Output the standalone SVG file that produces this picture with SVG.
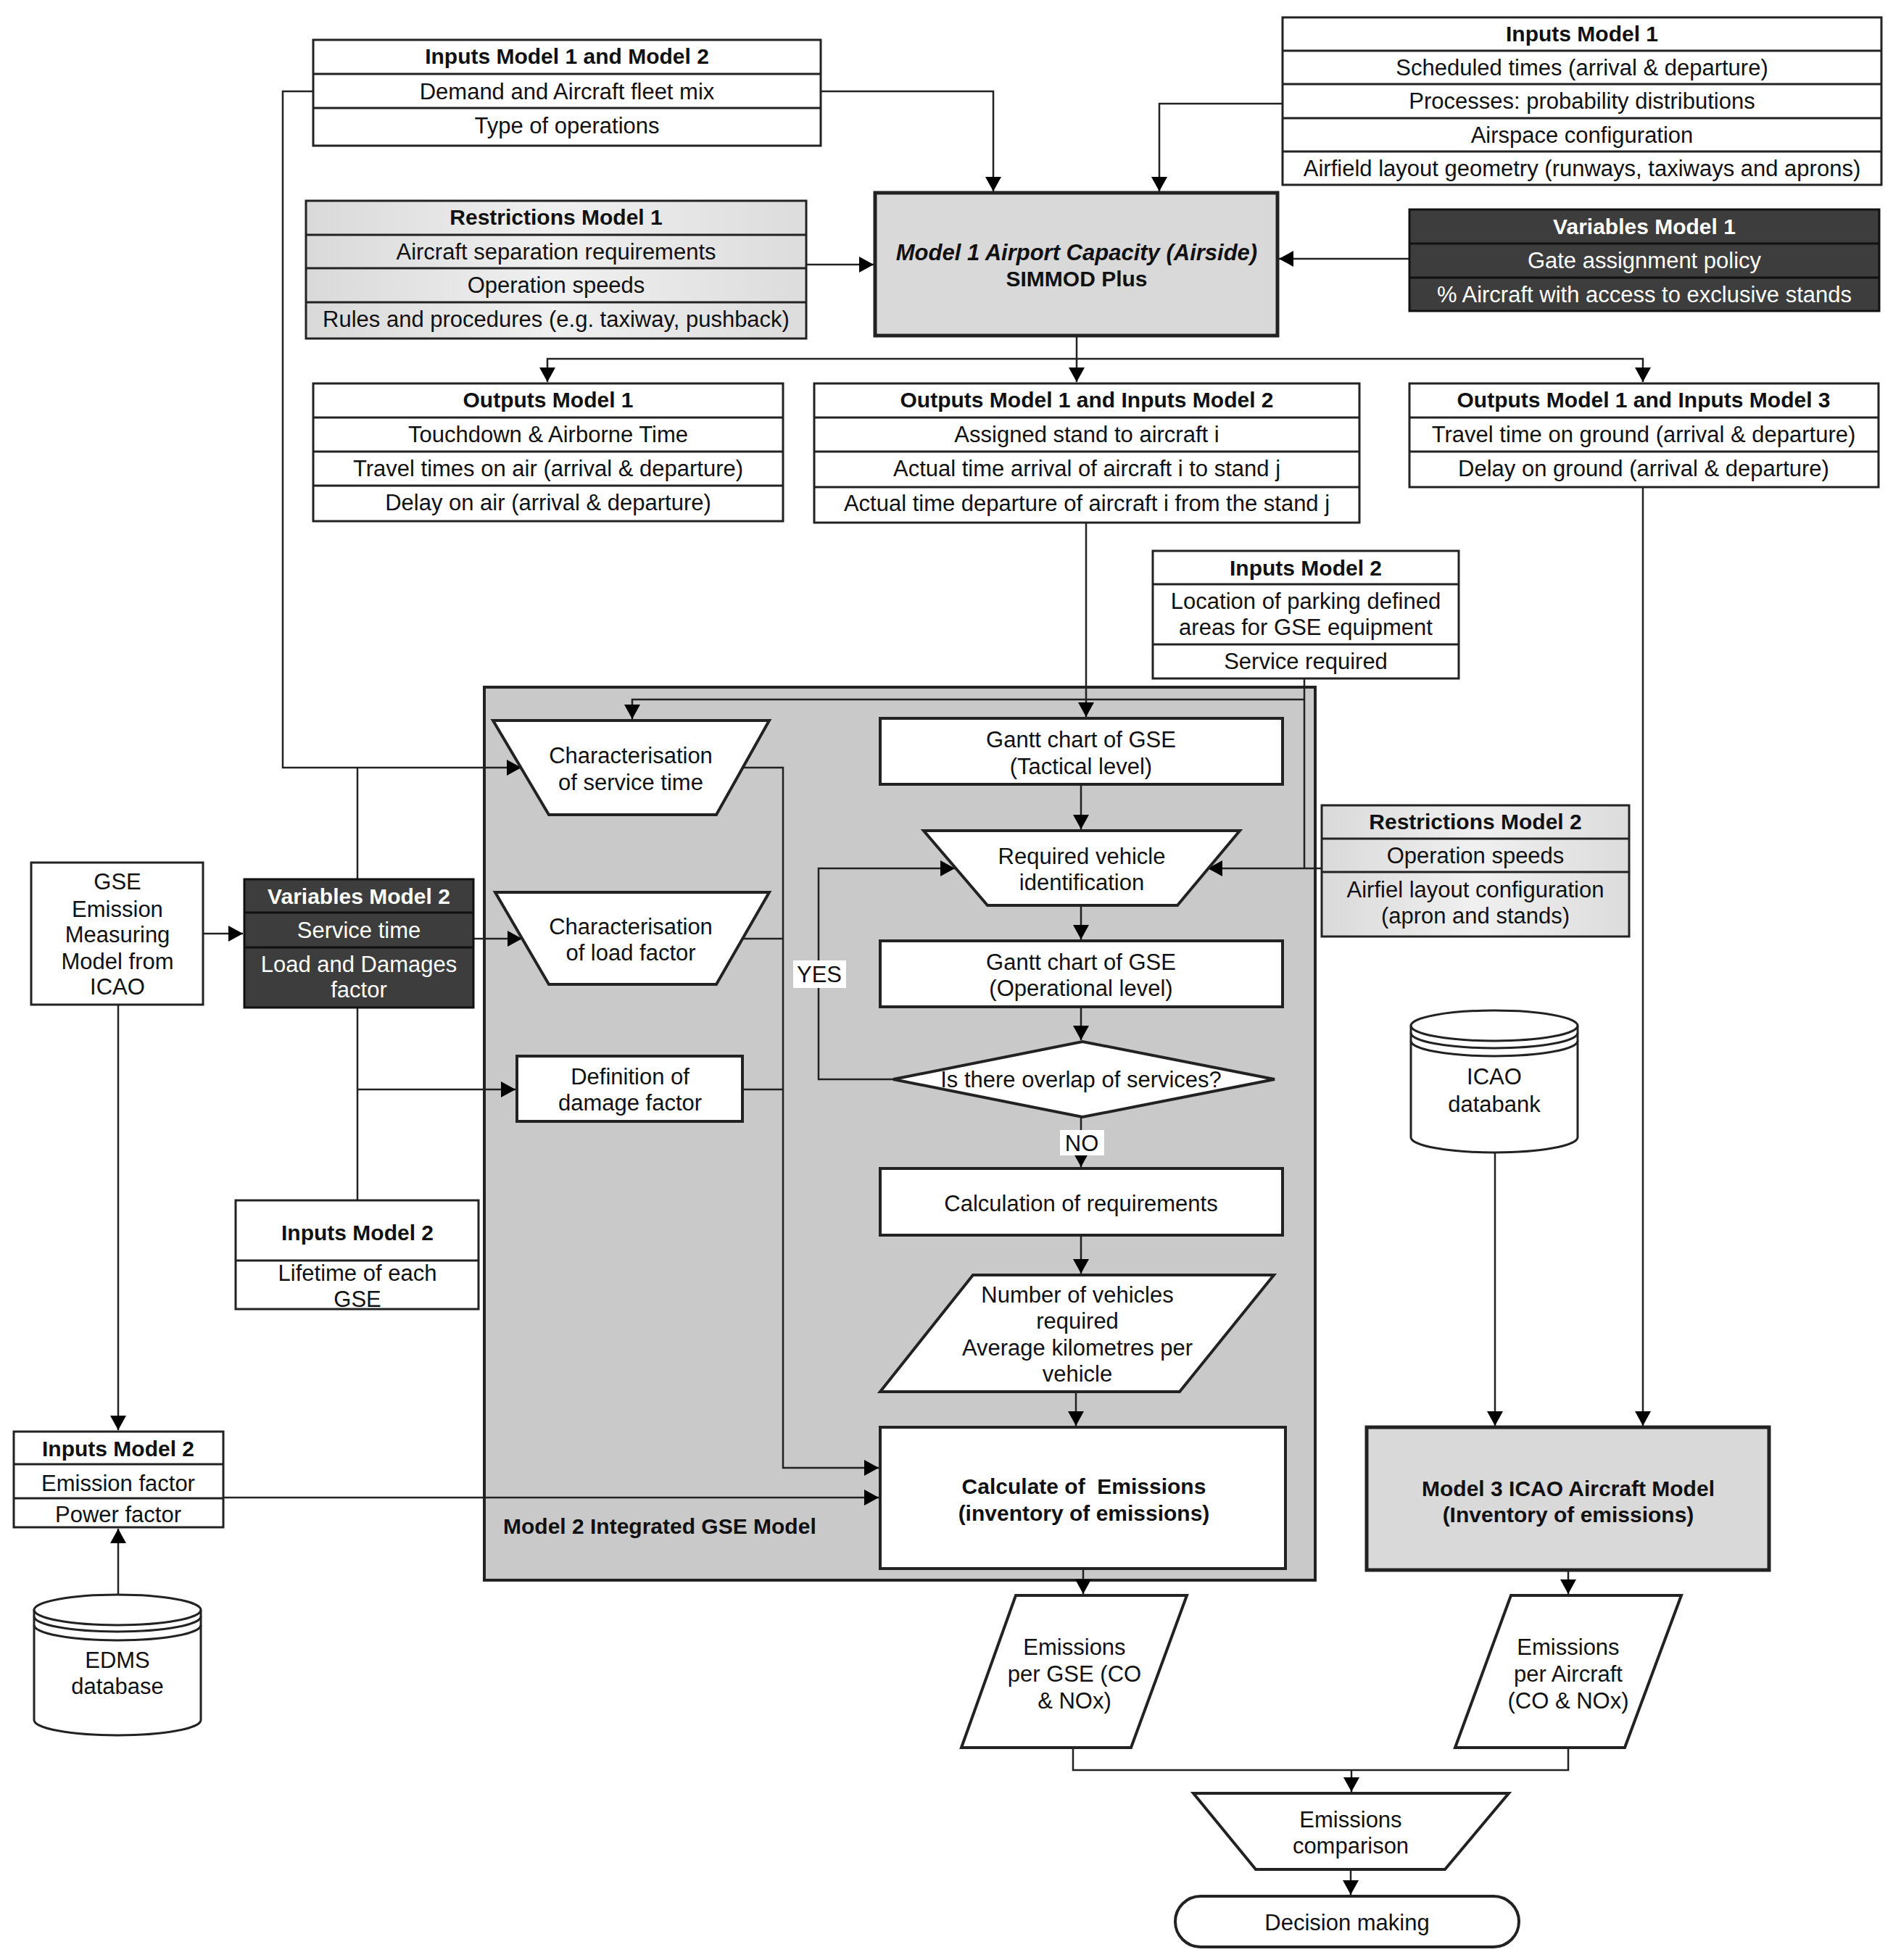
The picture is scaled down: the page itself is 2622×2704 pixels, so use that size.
<svg xmlns="http://www.w3.org/2000/svg" width="2622" height="2704" viewBox="0 0 2622 2704">
<defs>
<marker id="ah" markerUnits="userSpaceOnUse" markerWidth="22" markerHeight="22" refX="20" refY="11" orient="auto">
<path d="M0,0 L20,11 L0,22 z" fill="#000"/>
</marker>
<linearGradient id="restr" x1="0" y1="0" x2="1" y2="0">
<stop offset="0" stop-color="#d9d9d9"/>
<stop offset="0.5" stop-color="#f0f0f0"/>
<stop offset="1" stop-color="#dcdcdc"/>
</linearGradient>
</defs>
<style>
text{font-family:"Liberation Sans",Arial,sans-serif;font-size:31px;fill:#111;text-anchor:middle}
.b{font-weight:bold;font-size:30px}
.bi{font-weight:bold;font-style:italic}
.w{fill:#fff}
.l{text-anchor:start}
.box{fill:#fff;stroke:#222;stroke-width:3}
.rbox{fill:url(#restr);stroke:#222;stroke-width:3}
.dbox{fill:#3d3d3d;stroke:#111;stroke-width:3}
.div{stroke:#222;stroke-width:3;fill:none}
.ddiv{stroke:#111;stroke-width:3;fill:none}
.model{fill:#d9d9d9;stroke:#222;stroke-width:5}
.sh{fill:#fff;stroke:#222;stroke-width:4}
.c{fill:none;stroke:#222;stroke-width:2.5}
.a{fill:none;stroke:#222;stroke-width:2.5;marker-end:url(#ah)}
.lab{fill:#fff;stroke:none}
</style>
<rect width="2622" height="2704" fill="#fff"/>

<!-- Model 2 container (background) -->
<g id="model2">
<rect x="668" y="948" width="1146" height="1232" fill="#c9c9c9" stroke="#222" stroke-width="4"/>
<text class="b l" x="694" y="2116">Model 2 Integrated GSE Model</text>
</g>

<g id="connectors">
<path class="a" d="M432,126 H390 V1059 H719"/>
<path class="c" d="M493,1213 V1059"/>
<path class="a" d="M1132,126 H1370 V264"/>
<path class="a" d="M1769,143 H1599 V264"/>
<path class="a" d="M1112,365 H1205"/>
<path class="a" d="M1944,357 H1764"/>
<path class="a" d="M1485,463 V527"/>
<path class="a" d="M1485,495 H755 V527"/>
<path class="a" d="M1485,495 H2266 V527"/>
<path class="a" d="M1498,721 V989"/>
<path class="a" d="M2266,672 V1967"/>
<path class="c" d="M1799,936 V1198"/>
<path class="a" d="M1823,1198 H1666"/>
<path class="a" d="M1799,965 H872 V992"/>
<path class="a" d="M1491,1082 V1144"/>
<path class="a" d="M1491,1249 V1296"/>
<path class="a" d="M1491,1389 V1435"/>
<path class="a" d="M1232,1489 H1129 V1198 H1317"/>
<path class="a" d="M1491,1541 V1610"/>
<path class="a" d="M1491,1704 V1757"/>
<path class="a" d="M1484,1920 V1967"/>
<path class="a" d="M1024,1059 H1080 V2025 H1212"/>
<path class="c" d="M1024,1295 H1080"/>
<path class="c" d="M1024,1503 H1080"/>
<path class="a" d="M280,1288 H335"/>
<path class="a" d="M653,1295 H720"/>
<path class="c" d="M493,1390 V1656"/>
<path class="a" d="M493,1503 H711"/>
<path class="a" d="M163,1386 V1973"/>
<path class="a" d="M163,2200 V2109"/>
<path class="a" d="M308,2066 H1212"/>
<path class="a" d="M1494,2164 V2199"/>
<path class="a" d="M2062,1590 V1967"/>
<path class="a" d="M2163,2166 V2199"/>
<path class="c" d="M1480,2411 V2442 H2163 V2411"/>
<path class="a" d="M1864,2442 V2472"/>
<path class="a" d="M1863,2579 V2614"/>
</g>

<g id="inputs12">
<rect class="box" x="432" y="55" width="700" height="146"/>
<path class="div" d="M432,102 H1132 M432,149 H1132"/>
<text class="b" x="782" y="88">Inputs Model 1 and Model 2</text>
<text x="782" y="137">Demand and Aircraft fleet mix</text>
<text x="782" y="184">Type of operations</text>
</g>

<g id="inputs1">
<rect class="box" x="1769" y="24" width="826" height="231"/>
<path class="div" d="M1769,70 H2595 M1769,116 H2595 M1769,163 H2595 M1769,209 H2595"/>
<text class="b" x="2182" y="57">Inputs Model 1</text>
<text x="2182" y="104">Scheduled times (arrival &amp; departure)</text>
<text x="2182" y="150">Processes: probability distributions</text>
<text x="2182" y="197">Airspace configuration</text>
<text x="2182" y="243">Airfield layout geometry (runways, taxiways and aprons)</text>
</g>

<g id="restrictions1">
<rect class="rbox" x="422" y="277" width="690" height="190"/>
<path class="div" d="M422,324 H1112 M422,370 H1112 M422,417 H1112"/>
<text class="b" x="767" y="310">Restrictions Model 1</text>
<text x="767" y="358">Aircraft separation requirements</text>
<text x="767" y="404">Operation speeds</text>
<text x="767" y="451">Rules and procedures (e.g. taxiway, pushback)</text>
</g>

<g id="model1">
<rect class="model" x="1207" y="266" width="555" height="197"/>
<text class="bi" x="1485" y="359">Model 1 Airport Capacity (Airside)</text>
<text class="b" x="1485" y="395">SIMMOD Plus</text>
</g>

<g id="variables1">
<rect class="dbox" x="1944" y="289" width="648" height="140"/>
<path class="ddiv" d="M1944,336 H2592 M1944,383 H2592"/>
<text class="b w" x="2268" y="323">Variables Model 1</text>
<text class="w" x="2268" y="370">Gate assignment policy</text>
<text class="w" x="2268" y="417">% Aircraft with access to exclusive stands</text>
</g>

<g id="outputs1">
<rect class="box" x="432" y="529" width="648" height="190"/>
<path class="div" d="M432,576 H1080 M432,623 H1080 M432,670 H1080"/>
<text class="b" x="756" y="562">Outputs Model 1</text>
<text x="756" y="610">Touchdown &amp; Airborne Time</text>
<text x="756" y="657">Travel times on air (arrival &amp; departure)</text>
<text x="756" y="704">Delay on air (arrival &amp; departure)</text>
</g>

<g id="outputs12">
<rect class="box" x="1123" y="529" width="752" height="192"/>
<path class="div" d="M1123,576 H1875 M1123,623 H1875 M1123,672 H1875"/>
<text class="b" x="1499" y="562">Outputs Model 1 and Inputs Model 2</text>
<text x="1499" y="610">Assigned stand to aircraft i</text>
<text x="1499" y="657">Actual time arrival of aircraft i to stand j</text>
<text x="1499" y="705">Actual time departure of aircraft i from the stand j</text>
</g>

<g id="outputs13">
<rect class="box" x="1944" y="529" width="647" height="143"/>
<path class="div" d="M1944,576 H2591 M1944,623 H2591"/>
<text class="b" x="2267" y="562">Outputs Model 1 and Inputs Model 3</text>
<text x="2267" y="610">Travel time on ground (arrival &amp; departure)</text>
<text x="2267" y="657">Delay on ground (arrival &amp; departure)</text>
</g>

<g id="inputs2top">
<rect class="box" x="1590" y="760" width="422" height="176"/>
<path class="div" d="M1590,806 H2012 M1590,889 H2012"/>
<text class="b" x="1801" y="794">Inputs Model 2</text>
<text x="1801" y="840">Location of parking defined</text>
<text x="1801" y="876">areas for GSE equipment</text>
<text x="1801" y="923">Service required</text>
</g>

<g id="restrictions2">
<rect class="rbox" x="1823" y="1111" width="424" height="181"/>
<path class="div" d="M1823,1157 H2247 M1823,1203 H2247"/>
<text class="b" x="2035" y="1144">Restrictions Model 2</text>
<text x="2035" y="1191">Operation speeds</text>
<text x="2035" y="1238">Airfiel layout configuration</text>
<text x="2035" y="1274">(apron and stands)</text>
</g>

<g id="charService">
<polygon class="sh" points="680,994 1061,994 988,1124 757,1124"/>
<text x="870" y="1053">Characterisation</text>
<text x="870" y="1090">of service time</text>
</g>

<g id="charLoad">
<polygon class="sh" points="683,1231 1061,1231 988,1358 757,1358"/>
<text x="870" y="1289">Characterisation</text>
<text x="870" y="1325">of load factor</text>
</g>

<g id="defDamage">
<rect class="sh" x="713" y="1457" width="311" height="90"/>
<text x="869" y="1496">Definition of</text>
<text x="869" y="1532">damage factor</text>
</g>

<g id="ganttTactical">
<rect class="sh" x="1214" y="991" width="555" height="91"/>
<text x="1491" y="1031">Gantt chart of GSE</text>
<text x="1491" y="1068">(Tactical level)</text>
</g>

<g id="requiredVehicle">
<polygon class="sh" points="1274,1146 1710,1146 1624,1249 1362,1249"/>
<text x="1492" y="1192">Required vehicle</text>
<text x="1492" y="1228">identification</text>
</g>

<g id="ganttOperational">
<rect class="sh" x="1214" y="1298" width="555" height="91"/>
<text x="1491" y="1338">Gantt chart of GSE</text>
<text x="1491" y="1374">(Operational level)</text>
</g>

<g id="overlap">
<polygon class="sh" points="1232,1489 1493,1437 1758,1489 1493,1541"/>
<text x="1491" y="1500">Is there overlap of services?</text>
</g>

<g id="yesLabel">
<rect class="lab" x="1094" y="1325" width="73" height="38"/>
<text x="1130" y="1355">YES</text>
</g>

<g id="noLabel">
<rect class="lab" x="1462" y="1559" width="61" height="35"/>
<text x="1492" y="1588">NO</text>
</g>

<g id="calcReq">
<rect class="sh" x="1214" y="1612" width="555" height="92"/>
<text x="1491" y="1671">Calculation of requirements</text>
</g>

<g id="numVehicles">
<polygon class="sh" points="1342,1759 1757,1759 1627,1920 1214,1920"/>
<text x="1486" y="1797">Number of vehicles</text>
<text x="1486" y="1833">required</text>
<text x="1486" y="1870">Average kilometres per</text>
<text x="1486" y="1906">vehicle</text>
</g>

<g id="calcEmissions">
<rect class="sh" x="1214" y="1969" width="559" height="195"/>
<text class="b" x="1495" y="2061" xml:space="preserve">Calculate of  Emissions</text>
<text class="b" x="1495" y="2098">(inventory of emissions)</text>
</g>

<g id="gseModel">
<rect class="box" x="43" y="1190" width="237" height="196"/>
<text x="162" y="1227">GSE</text>
<text x="162" y="1265">Emission</text>
<text x="162" y="1300">Measuring</text>
<text x="162" y="1337">Model from</text>
<text x="162" y="1372">ICAO</text>
</g>

<g id="variables2">
<rect class="dbox" x="337" y="1213" width="316" height="177"/>
<path class="ddiv" d="M337,1259 H653 M337,1307 H653"/>
<text class="b w" x="495" y="1247">Variables Model 2</text>
<text class="w" x="495" y="1294">Service time</text>
<text class="w" x="495" y="1341">Load and Damages</text>
<text class="w" x="495" y="1376">factor</text>
</g>

<g id="inputs2mid">
<rect class="box" x="325" y="1656" width="335" height="150"/>
<path class="div" d="M325,1739 H660"/>
<text class="b" x="493" y="1711">Inputs Model 2</text>
<text x="493" y="1767">Lifetime of each</text>
<text x="493" y="1803">GSE</text>
</g>

<g id="inputs2left">
<rect class="box" x="19" y="1975" width="289" height="132"/>
<path class="div" d="M19,2020 H308 M19,2067 H308"/>
<text class="b" x="163" y="2009">Inputs Model 2</text>
<text x="163" y="2057">Emission factor</text>
<text x="163" y="2100">Power factor</text>
</g>

<g id="edms">
<path d="M47,2221 V2373 A115,21 0 0 0 277,2373 V2221 A115,21 0 0 0 47,2221 Z" fill="#fff" stroke="#222" stroke-width="3"/>
<path class="div" d="M47,2221 A115,21 0 0 0 277,2221 M47,2230 A115,21 0 0 0 277,2230 M47,2242 A115,21 0 0 0 277,2242"/>
<text x="162" y="2301">EDMS</text>
<text x="162" y="2337">database</text>
</g>

<g id="icao">
<path d="M1946,1415 V1569 A115,21 0 0 0 2176,1569 V1415 A115,21 0 0 0 1946,1415 Z" fill="#fff" stroke="#222" stroke-width="3"/>
<path class="div" d="M1946,1415 A115,21 0 0 0 2176,1415 M1946,1425 A115,21 0 0 0 2176,1425 M1946,1436 A115,21 0 0 0 2176,1436"/>
<text x="2061" y="1496">ICAO</text>
<text x="2061" y="1534">databank</text>
</g>

<g id="model3">
<rect class="model" x="1885" y="1969" width="555" height="197"/>
<text class="b" x="2163" y="2064">Model 3 ICAO Aircraft Model</text>
<text class="b" x="2163" y="2100">(Inventory of emissions)</text>
</g>

<g id="emGSE">
<polygon class="sh" points="1401,2201 1637,2201 1560,2411 1326,2411"/>
<text x="1482" y="2283">Emissions</text>
<text x="1482" y="2320">per GSE (CO</text>
<text x="1482" y="2357">&amp; NOx)</text>
</g>

<g id="emAircraft">
<polygon class="sh" points="2084,2201 2319,2201 2241,2411 2007,2411"/>
<text x="2163" y="2283">Emissions</text>
<text x="2163" y="2320">per Aircraft</text>
<text x="2163" y="2357">(CO &amp; NOx)</text>
</g>

<g id="comparison">
<polygon class="sh" points="1646,2474 2081,2474 1993,2579 1732,2579"/>
<text x="1863" y="2521">Emissions</text>
<text x="1863" y="2557">comparison</text>
</g>

<g id="decision">
<rect class="sh" x="1621" y="2616" width="474" height="70" rx="35" ry="35"/>
<text x="1858" y="2663">Decision making</text>
</g>
</svg>
